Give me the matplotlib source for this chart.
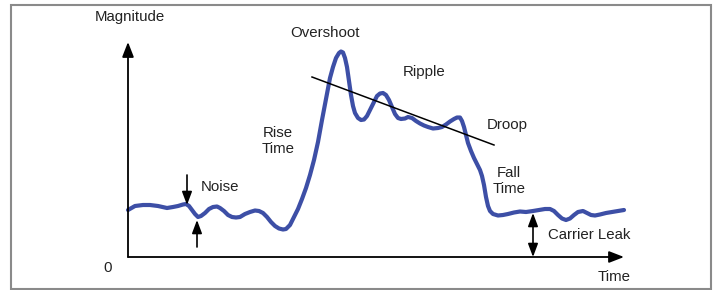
import matplotlib.pyplot as plt
from matplotlib.patches import Rectangle

plt.rcParams['font.family'] = ['Liberation Sans', 'DejaVu Sans']

# pulse trace (time, magnitude), arbitrary units
t = [0, 7, 15, 22, 30, 39, 45, 50, 55, 58, 61, 64, 67, 70, 73, 77, 81, 85, 89,
     92, 96, 100, 104, 108, 112, 117, 122, 127, 131, 135, 139, 143, 147, 151,
     155, 158, 162, 166, 170, 174, 178, 182, 186, 190, 194, 198, 202, 205, 208,
     211, 213, 215, 217, 219, 221, 223, 225, 227, 230, 233, 236, 239, 242, 246,
     249, 252, 255, 258, 261, 264, 267, 270, 273, 277, 280, 284, 288, 292, 296,
     300, 305, 310, 314, 318, 322, 326, 329, 332, 334, 336, 338, 340, 343, 346,
     349, 352, 354, 356, 358, 360, 362, 365, 370, 375, 380, 386, 392, 398, 405,
     411, 417, 422, 426, 430, 434, 438, 442, 446, 450, 455, 459, 463, 467, 472,
     478, 484, 490, 496]
mag = [47, 51, 52, 52, 51, 49, 50, 51, 52.5, 53, 51, 47, 43, 40, 41, 44, 48, 50,
       50.5, 49, 46, 42, 40, 39.5, 40, 43, 45, 46.5, 46, 44, 40, 35, 31, 28.5,
       27.5, 28, 32, 40, 48, 58, 69, 82, 97, 115, 137, 158, 179, 190, 199,
       204, 205.5, 204.5, 199, 190, 176, 162, 151, 144, 139, 137, 137.5, 141,
       147, 155, 161, 163.5, 164, 162, 157, 150, 143, 139, 138, 138.5, 140,
       139, 136, 133.5, 131.5, 130, 128.5, 129, 130, 132.5, 135.5, 138, 139.5,
       139.5, 136, 130, 122, 114, 106, 99, 93, 87, 81, 72, 60, 51, 46, 43,
       41.5, 42, 43, 44.5, 45.5, 45, 46, 47, 48, 48, 46, 42, 38.5, 37, 38.5,
       42, 45, 46, 44, 42, 41.5, 42.5, 44, 45, 46, 47]

# droop trend line end points
droop_t = [184, 366]
droop_m = [180, 112]

# noise band and carrier leak level
noise_t = [59, 69]
noise_hi, noise_lo = 52, 37
leak_t, leak_m = 405, 44

t_end, m_end = 496, 215

labels = ['Magnitude', '0', 'Time', 'Overshoot', 'Ripple', 'Droop',
          'Rise\nTime', 'Fall\nTime', 'Noise', 'Carrier Leak']

fig = plt.figure(figsize=(7.17, 2.90), dpi=100)
ax = fig.add_axes([0, 0, 1, 1])
ax.set_xlim(-128, 589)
ax.set_ylim(-33, 257)
ax.axis('off')

# outer frame
ax.add_patch(Rectangle((-117, -32), 700, 284, fill=False, ec='#8a8a8a', lw=1.5))

arrow = dict(arrowstyle='-|>,head_length=0.9,head_width=0.35', color='black',
             lw=1.3, shrinkA=0, shrinkB=0)
# axes
ax.annotate('', xy=(0, m_end), xytext=(0, 0), arrowprops=arrow)
ax.annotate('', xy=(t_end, 0), xytext=(0, 0), arrowprops=arrow)

# signal
ax.plot(t, mag, color='#3d4fa6', lw=3.0, solid_joinstyle='round',
        solid_capstyle='round')
ax.plot(droop_t, droop_m, color='black', lw=1.1)

# noise arrows
small = dict(arrowstyle='-|>,head_length=0.8,head_width=0.3', color='black',
             lw=1.2, shrinkA=0, shrinkB=0)
ax.annotate('', xy=(noise_t[0], noise_hi), xytext=(noise_t[0], noise_hi + 30),
            arrowprops=small)
ax.annotate('', xy=(noise_t[1], noise_lo), xytext=(noise_t[1], noise_lo - 27),
            arrowprops=small)

# carrier leak double arrow
ax.annotate('', xy=(leak_t, leak_m), xytext=(leak_t, 0),
            arrowprops=dict(arrowstyle='<|-|>,head_length=0.8,head_width=0.3',
                            color='black', lw=1.2, shrinkA=0, shrinkB=0))

pos = [(2, 240), (-20, -11), (486, -20), (197, 224), (296, 185), (379, 132),
       (150, 116), (381, 76), (92, 70), (461, 22)]
for s, (x, y) in zip(labels, pos):
    ax.text(x, y, s, fontsize=10.8, ha='center', va='center', color='#222222',
            linespacing=1.25)

fig.savefig('out.png', dpi=100, facecolor='white')
